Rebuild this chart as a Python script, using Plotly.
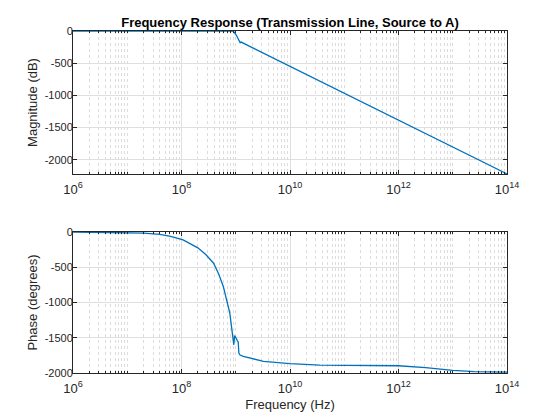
import plotly.graph_objects as go

# ---- data ----
mag_freq_hz = [1e6, 1e7, 1e8, 5e8, 9.0e8, 1.02e9, 1.17e9, 1.21e9, 1.26e9,
               1e10, 1e11, 1e12, 1e13, 1e14]
mag_db = [0, 0, 0, 0, -2, -62, -150, -182, -172,
          -548, -965, -1382, -1800, -2220]

phase_freq_hz = [1e6, 1e7, 2e7, 3.98e7, 6.3e7, 1.07e8, 2.0e8, 2.8e8, 3.9e8,
                 4.8e8, 5.9e8, 7.76e8, 9.0e8, 9.2e8, 9.55e8, 9.8e8, 1.02e9,
                 1.07e9, 1.11e9, 1.14e9, 1.2e9, 1.38e9, 3.24e9, 1e10,
                 3.55e10, 1e11, 1e12, 3.16e12, 1e13, 2.5e13, 1e14]
phase_deg = [0, -5, -15, -33, -62, -113, -225, -320, -443,
             -590, -774, -1146, -1481, -1600, -1470, -1490, -1520,
             -1540, -1560, -1716, -1745, -1764, -1835, -1867,
             -1888, -1892, -1897, -1925, -1962, -1980, -1987]

x_tick_vals = [1e6, 1e8, 1e10, 1e12, 1e14]
x_tick_text = ["10<sup>6</sup>", "10<sup>8</sup>", "10<sup>10</sup>",
               "10<sup>12</sup>", "10<sup>14</sup>"]
mag_tick_vals = [-2000, -1500, -1000, -500, 0]
mag_tick_text = ["-2000", "-1500", "-1000", "-500", "0"]
phase_tick_vals = [-2000, -1500, -1000, -500, 0]
phase_tick_text = ["-2000", "-1500", "-1000", "-500", "0"]

minor_vals = []
for e in range(6, 14):
    for m in range(1, 10):
        v = m * 10 ** e
        if m == 1 and e % 2 == 0:
            continue
        minor_vals.append(v)

LINE = "#0072BD"
AX = "#262626"
FONT = "Liberation Sans, Arial, Helvetica, sans-serif"

fig = go.Figure()
fig.add_trace(go.Scatter(x=mag_freq_hz, y=mag_db, mode="lines",
                         line=dict(color=LINE, width=1.3), xaxis="x", yaxis="y",
                         showlegend=False))
fig.add_trace(go.Scatter(x=phase_freq_hz, y=phase_deg, mode="lines",
                         line=dict(color=LINE, width=1.3), xaxis="x2", yaxis="y2",
                         showlegend=False))

xcommon = dict(type="log", range=[6, 14], tickmode="array", tickvals=x_tick_vals,
               ticktext=x_tick_text, ticks="inside", ticklen=4, tickcolor=AX,
               showline=True, linecolor=AX, linewidth=1, mirror="ticks",
               showgrid=True, gridcolor="#dfdfdf", gridwidth=1, zeroline=False,
               automargin=False, ticklabelstandoff=3,
               tickfont=dict(size=13, color=AX, family=FONT),
               minor=dict(tickmode="array", tickvals=minor_vals, ticks="inside",
                          ticklen=2, tickcolor=AX, showgrid=True,
                          gridcolor="#dcdcdc", griddash="dot", gridwidth=1))
ycommon = dict(tickmode="array", ticks="inside", ticklen=4, tickcolor=AX,
               showline=True, linecolor=AX, linewidth=1, mirror="ticks",
               showgrid=True, gridcolor="#dfdfdf", gridwidth=1, zeroline=False,
               automargin=False, ticklabelstandoff=-3,
               tickfont=dict(size=11, color=AX, family=FONT))

fig.update_layout(
    width=560, height=420,
    paper_bgcolor="white", plot_bgcolor="white",
    margin=dict(l=73, r=53, t=31, b=47),
    font=dict(family=FONT, color=AX),
    xaxis=dict(**xcommon, domain=[0, 1], anchor="y"),
    yaxis=dict(**ycommon, domain=[0.5819, 1], anchor="x", range=[-2222, 0],
               tickvals=mag_tick_vals, ticktext=mag_tick_text,
               title=dict(text="Magnitude (dB)", font=dict(size=13, color=AX), standoff=4)),
    xaxis2=dict(**xcommon, domain=[0, 1], anchor="y2",
                title=dict(text="Frequency (Hz)", font=dict(size=13, color=AX), standoff=5)),
    yaxis2=dict(**ycommon, domain=[0, 0.4123], anchor="x2", range=[-2000, 0],
                tickvals=phase_tick_vals, ticktext=phase_tick_text,
                title=dict(text="Phase (degrees)", font=dict(size=13, color=AX), standoff=4)),
    title=dict(text="<b>Frequency Response (Transmission Line, Source to A)</b>",
               x=0.5, xanchor="center", xref="paper", y=1 - 22/420, yanchor="middle",
               font=dict(size=13, color="black", family=FONT)),
)

fig.write_html("out.html", config={"displayModeBar": False},
               post_script="document.body.style.margin='0';document.body.style.padding='0';")
